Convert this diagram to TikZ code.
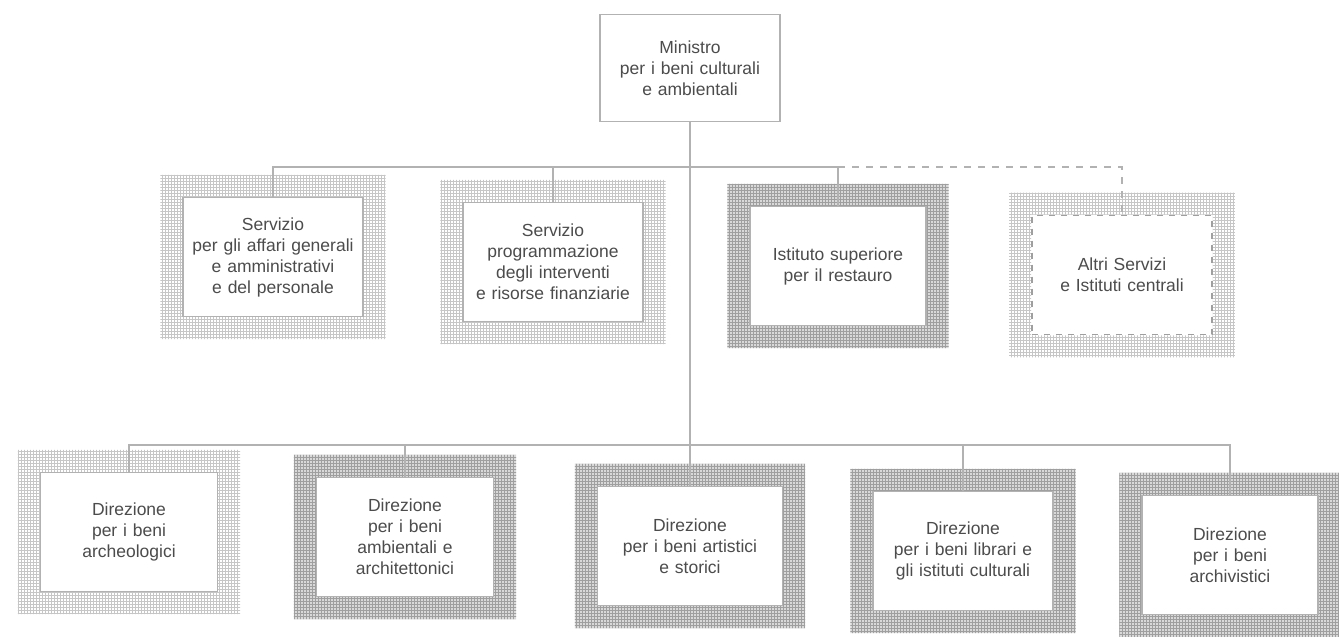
\documentclass[tikz,border=0pt]{standalone}
\usepackage{fontspec}
\setmainfont{Liberation Sans}
\usetikzlibrary{patterns,backgrounds}

\begin{document}
\begin{tikzpicture}[x=1pt,y=-1pt,
    box/.style={draw=gray!60,line width=1.2pt,align=center,text=black!70,
      font=\fontsize{17.5}{21}\selectfont,minimum width=180pt,minimum height=119pt,
      text width=176pt,inner sep=0pt},
    link/.style={draw=gray!60,line width=1.2pt},
    light/.style={pattern=grid,pattern color=gray!45},
    dark/.style={fill=gray!30,postaction={pattern=grid,pattern color=gray!75}}]
    \useasboundingbox (0,0) rectangle (1339,637);

    \node[box,minimum height=107pt] (min) at (690,68) {Ministro\\per i beni culturali\\e ambientali};

    \node[box] (s1) at (273,257) {Servizio\\per gli affari generali\\e amministrativi\\e del personale};
    \node[box] (s2) at (553,262) {Servizio\\programmazione\\degli interventi\\e risorse finanziarie};
    \node[box,minimum width=175pt] (ist) at (838,266) {Istituto superiore\\per il restauro};
    \node[box,draw=gray!75,dash pattern=on 6pt off 6pt,line width=1.6pt] (alt) at (1122,275) {Altri Servizi\\e Istituti centrali};

    \node[box,minimum width=177pt] (d1) at (129,532) {Direzione\\per i beni\\archeologici};
    \node[box,minimum width=177pt] (d2) at (405,537) {Direzione\\per i beni\\ambientali e\\architettonici};
    \node[box,minimum width=185pt] (d3) at (690,546) {Direzione\\per i beni artistici\\e storici};
    \node[box] (d4) at (963,551) {Direzione\\per i beni librari e\\gli istituti culturali};
    \node[box,minimum width=176pt] (d5) at (1230,555) {Direzione\\per i beni\\archivistici};

    \coordinate (bus1) at (690,167);
    \coordinate (bus2) at (690,445);

    \draw[link] (min.south) -- (d3.north);
    \draw[link] (s1.north) |- (bus1) -| (ist.north);
    \draw[link] (s2.north) -- (s2.north |- bus1);
    \draw[link,dash pattern=on 7pt off 7pt] (ist.north |- bus1) -| (alt.north);
    \draw[link] (d1.north) |- (bus2) -| (d5.north);
    \draw[link] (d2.north) -- (d2.north |- bus2);
    \draw[link] (d4.north) -- (d4.north |- bus2);

    % patterned frames
    \begin{scope}[on background layer]
    \fill[white] (0,0) rectangle (1339,637);
    \foreach \n in {s1,s2,alt,d1}
      \fill[light,even odd rule] ([shift={(-22,-22)}]\n.north west) rectangle ([shift={(22,22)}]\n.south east)
        (\n.north west) rectangle (\n.south east);
    \foreach \n in {ist,d2,d3,d4,d5}
      \fill[dark,even odd rule] ([shift={(-22,-22)}]\n.north west) rectangle ([shift={(22,22)}]\n.south east)
        (\n.north west) rectangle (\n.south east);
    \end{scope}
\end{tikzpicture}
\end{document}
